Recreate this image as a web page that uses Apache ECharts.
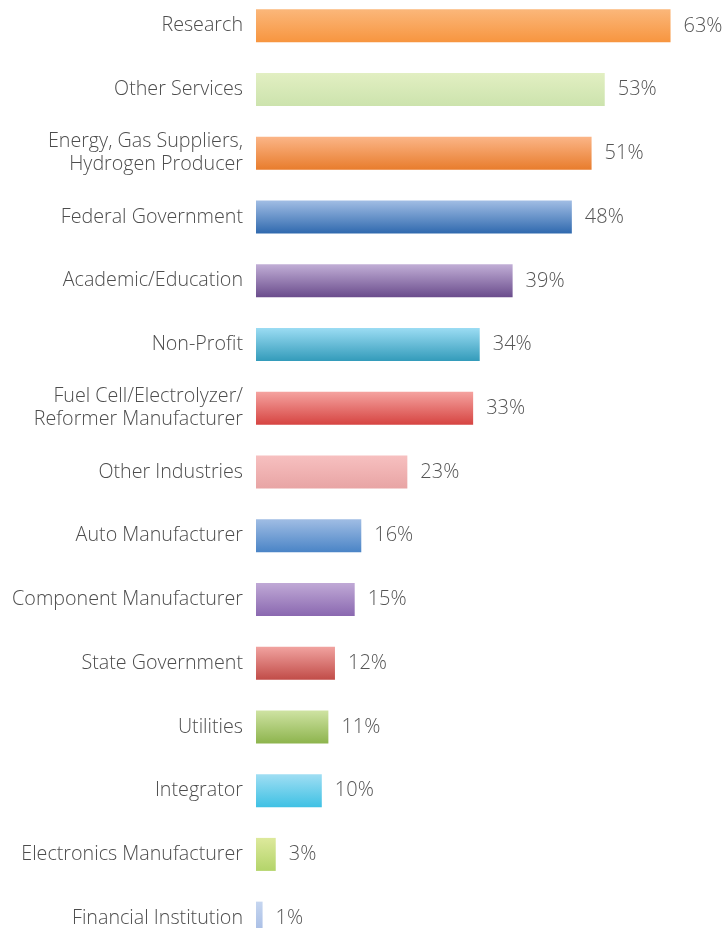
<!DOCTYPE html>
<html><head><meta charset="utf-8">
<script src="https://cdn.jsdelivr.net/npm/echarts@6/dist/echarts.min.js"></script>
<style>html,body{margin:0;padding:0;background:#fff;overflow:hidden}#c{width:726px;height:956px;margin-top:-6px}</style>
</head><body><div id="c"></div>
<script>
const categories = ["Research","Other Services","Energy, Gas Suppliers,\nHydrogen Producer","Federal Government","Academic/Education","Non-Profit","Fuel Cell/Electrolyzer/\nReformer Manufacturer","Other Industries","Auto Manufacturer","Component Manufacturer","State Government","Utilities","Integrator","Electronics Manufacturer","Financial Institution"];
const values = [63,53,51,48,39,34,33,23,16,15,12,11,10,3,1];
const topColors = ["#fbb77a","#e2efc2","#fbb587","#a1bde4","#c1aed6","#9bdcf3","#f5a3a0","#f7c0c0","#a0bde4","#c0a9d6","#f1a3a0","#cfe3a3","#a0def3","#dde99c","#c6d6f0"];
const bottomColors = ["#f7953f","#cce3ad","#e87c2c","#2f69ae","#6a4c8c","#339bba","#d64441","#e8a4a4","#4a84c6","#8a68b0","#c14c48","#8db44d","#3ec1e4","#b3d46a","#a5bbe4"];

const chart = echarts.init(document.getElementById('c'));
chart.setOption({
  animation:false,
  grid:{left:256,top:0,width:460.6,height:956,containLabel:false},
  xAxis:{type:'value',min:0,max:70,show:false},
  yAxis:{type:'category',data:categories,inverse:true,
    axisLine:{show:false},axisTick:{show:false},
    axisLabel:{margin:13,fontFamily:'Open Sans',fontWeight:300,fontSize:19.7,color:'#4d4d4d',lineHeight:23,align:'right'}},
  series:[{type:'bar',barWidth:33,
    data:values.map((v,i)=>({value:v,itemStyle:{color:new echarts.graphic.LinearGradient(0,0,0,1,[{offset:0,color:topColors[i]},{offset:1,color:bottomColors[i]}])}})),
    label:{show:true,position:'right',distance:13,formatter:'{c}%',fontFamily:'Open Sans',fontWeight:300,fontSize:20,color:'#555'}
  }]
});
</script></body></html>
